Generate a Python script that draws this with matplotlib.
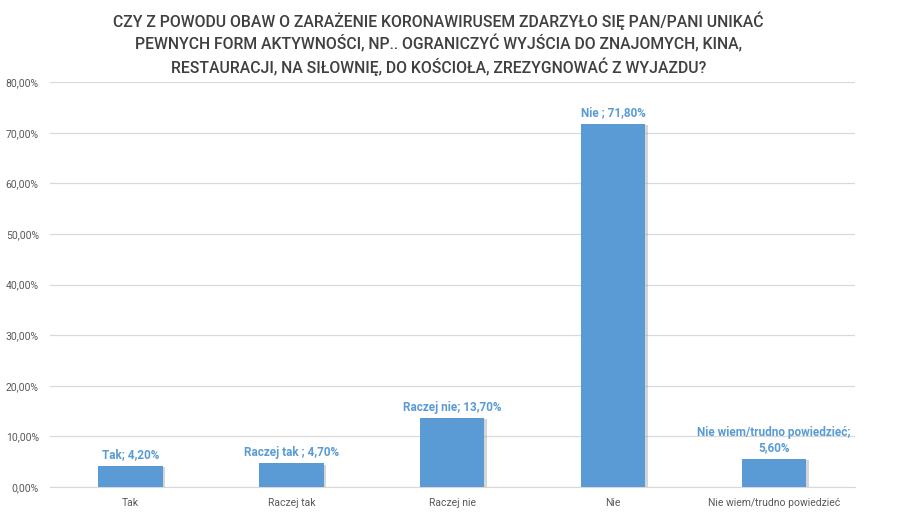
import matplotlib.pyplot as plt
import matplotlib.patheffects as pe
from matplotlib.ticker import FuncFormatter

# Dane
kategorie = ["Tak", "Raczej tak", "Raczej nie", "Nie", "Nie wiem/trudno powiedzieć"]
wartosci = [4.2, 4.7, 13.7, 71.8, 5.6]
etykiety = ["Tak; 4,20%", "Raczej tak ; 4,70%", "Raczej nie; 13,70%",
            "Nie ; 71,80%", "Nie wiem/trudno powiedzieć;\n5,60%"]

tytul = ("CZY Z POWODU OBAW O ZARAŻENIE KORONAWIRUSEM ZDARZYŁO SIĘ PAN/PANI UNIKAĆ\n"
         "PEWNYCH FORM AKTYWNOŚCI, NP.. OGRANICZYĆ WYJŚCIA DO ZNAJOMYCH, KINA,\n"
         "RESTAURACJI, NA SIŁOWNIĘ, DO KOŚCIOŁA, ZREZYGNOWAĆ Z WYJAZDU?")

plt.rcParams['font.family'] = ['Roboto', 'DejaVu Sans']

niebieski = '#5B9BD5'
szary = '#595959'

fig = plt.figure(figsize=(9.15, 5.14), dpi=100)
ax = fig.add_axes([0.0546, 0.0525, 0.8794, 0.7875])

x = range(len(kategorie))
slupki = ax.bar(x, wartosci, width=0.4, color=niebieski, zorder=3)
for s in slupki:
    s.set_path_effects([pe.SimplePatchShadow(offset=(2, -1), shadow_rgbFace='#9a9a9a', alpha=0.4),
                        pe.Normal()])

for xi, v, t in zip(x, wartosci, etykiety):
    ax.annotate(t, (xi, v), xytext=(0, 3), textcoords='offset points',
                ha='center', va='bottom', color=niebieski, fontsize=8.5,
                fontweight='bold', linespacing=1.3)

ax.set_xlim(-0.5, len(kategorie) - 0.5)
ax.set_ylim(0, 80)
ax.set_yticks(range(0, 81, 10))
ax.yaxis.set_major_formatter(FuncFormatter(lambda v, p: f"{v:.2f}%".replace('.', ',')))
ax.set_xticks(list(x))
ax.set_xticklabels(kategorie)
ax.tick_params(axis='both', length=0, colors=szary, labelsize=7.5)
ax.tick_params(axis='x', pad=8)
ax.tick_params(axis='y', pad=8)

ax.grid(axis='y', color='#D9D9D9', linewidth=0.9, zorder=0)
for k in ['top', 'right', 'left']:
    ax.spines[k].set_visible(False)
ax.spines['bottom'].set_color('#D9D9D9')

fig.text(0.479, 0.978, tytul, ha='center', va='top', fontsize=11.3,
         fontweight='medium', color='#404040', linespacing=1.3)

plt.savefig('out.png', dpi=100)
